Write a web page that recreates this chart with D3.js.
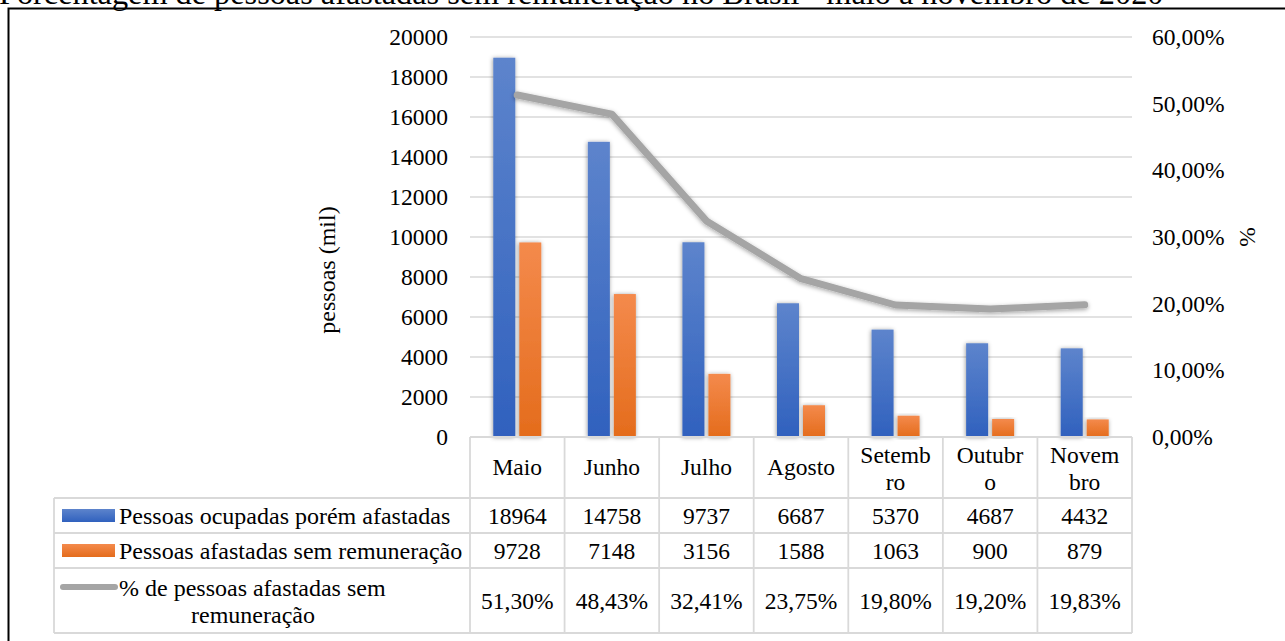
<!DOCTYPE html>
<html>
<head>
<meta charset="utf-8">
<script src="https://cdn.jsdelivr.net/npm/d3@7"></script>
<style>
  html, body { margin: 0; padding: 0; background: #fff; }
  svg { display: block; }
  text { font-family: "Liberation Serif", "Times New Roman", serif; fill: #000; }
</style>
</head>
<body>
<svg id="chart" width="1285" height="641"></svg>
<script>
// ---------------- data ----------------
const title = "Porcentagem de pessoas afastadas sem remuneração no Brasil - maio a novembro de 2020";
const categories = ["Maio", "Junho", "Julho", "Agosto", "Setembro", "Outubro", "Novembro"];
const categoryLines = [["Maio"], ["Junho"], ["Julho"], ["Agosto"], ["Setemb", "ro"], ["Outubr", "o"], ["Novem", "bro"]];
const ocupadasAfastadas = [18964, 14758, 9737, 6687, 5370, 4687, 4432];
const afastadasSemRem = [9728, 7148, 3156, 1588, 1063, 900, 879];
const pctSemRem = [0.5130, 0.4843, 0.3241, 0.2375, 0.1980, 0.1920, 0.1983];
const leftTicks = [0, 2000, 4000, 6000, 8000, 10000, 12000, 14000, 16000, 18000, 20000];
const rightTicks = [0, 0.1, 0.2, 0.3, 0.4, 0.5, 0.6];
const seriesNames = ["Pessoas ocupadas porém afastadas", "Pessoas afastadas sem remuneração", "% de pessoas afastadas sem remuneração"];
const leftTitle = "pessoas (mil)";
const rightTitle = "%";

// ---------------- layout ----------------
const svg = d3.select("#chart");
const W = 1285, H = 641;
const plotL = 470, plotR = 1132, plotT = 37, plotB = 437;
const tableL = 54;
const rowY = [437, 498, 533, 568, 633];
const gridColor = "#d9d9d9";
const fs = 23.5;
const fsT = 24;

const pt = d3.formatLocale({decimal: ",", thousands: ".", grouping: [3], currency: ["R$", ""]});
const fmtPct = pt.format(".2%");

svg.append("rect").attr("width", W).attr("height", H).attr("fill", "#fff");

const defs = svg.append("defs");
function grad(id, top, bottom) {
  const g = defs.append("linearGradient").attr("id", id).attr("x1", 0).attr("y1", 0).attr("x2", 0).attr("y2", 1);
  g.append("stop").attr("offset", "0%").attr("stop-color", top);
  g.append("stop").attr("offset", "100%").attr("stop-color", bottom);
}
grad("gBlue", "#5d84cc", "#3061be");
grad("gOrange", "#f48a4c", "#e46c1c");
const f1 = defs.append("filter").attr("id", "barShadow").attr("x", "-50%").attr("y", "-10%").attr("width", "200%").attr("height", "120%");
f1.append("feDropShadow").attr("dx", -0.5).attr("dy", 0.5).attr("stdDeviation", 2).attr("flood-color", "#000").attr("flood-opacity", 0.4);
const f2 = defs.append("filter").attr("id", "lineShadow").attr("x", "-10%").attr("y", "-30%").attr("width", "120%").attr("height", "160%");
f2.append("feDropShadow").attr("dx", 0).attr("dy", 1.5).attr("stdDeviation", 2).attr("flood-color", "#000").attr("flood-opacity", 0.35);

// title (partly cut off at top, as in reference)
const t = svg.append("text").attr("x", -1).attr("y", 4).attr("font-size", 26).text(title);
const tl = t.node().getComputedTextLength();
t.attr("font-size", 26 * 1165 / tl);

// frame
svg.append("rect").attr("x", 8.5).attr("y", 8.5).attr("width", W + 20).attr("height", H + 20)
  .attr("fill", "none").attr("stroke", "#000").attr("stroke-width", 2);

// scales
const x = d3.scaleBand().domain(categories).range([plotL, plotR]).padding(0);
const bw = x.bandwidth();
const xs = d3.scaleBand().domain(["a", "b"]).range([bw / 2 - 24, bw / 2 + 24]).paddingInner(4 / 26);
const y = d3.scaleLinear().domain([0, 20000]).range([plotB, plotT]);
const yR = d3.scaleLinear().domain([0, 0.6]).range([plotB, plotT]);

// gridlines
svg.append("g").selectAll("line").data(leftTicks.filter(d => d > 0)).join("line")
  .attr("x1", plotL).attr("x2", plotR).attr("y1", d => y(d)).attr("y2", d => y(d))
  .attr("stroke", gridColor).attr("stroke-width", 1.5);

// left axis
const ax = svg.append("g").attr("transform", `translate(${plotL},0)`)
  .call(d3.axisLeft(y).tickValues(leftTicks).tickSize(0).tickPadding(22).tickFormat(d3.format("d")));
ax.select(".domain").remove();
ax.selectAll("text").attr("font-size", fs).attr("font-family", "Liberation Serif").attr("fill", "#000");

// right axis
const axR = svg.append("g").attr("transform", `translate(${plotR},0)`)
  .call(d3.axisRight(yR).tickValues(rightTicks).tickSize(0).tickPadding(20).tickFormat(fmtPct));
axR.select(".domain").remove();
axR.selectAll("text").attr("font-size", fs).attr("font-family", "Liberation Serif").attr("fill", "#000");

// axis titles
svg.append("text").attr("transform", `translate(335,${(plotT + plotB) / 2 + 33}) rotate(-90)`)
  .attr("text-anchor", "middle").attr("font-size", fsT).text(leftTitle);
svg.append("text").attr("transform", `translate(1255,237) rotate(-90)`)
  .attr("text-anchor", "middle").attr("font-size", fs).text(rightTitle);

// bars
const gb = svg.append("g");
gb.selectAll("rect.b1").data(ocupadasAfastadas).join("rect").attr("class", "b1")
  .attr("x", (d, i) => x(categories[i]) + xs("a")).attr("width", xs.bandwidth())
  .attr("y", d => y(d)).attr("height", d => y(0) - y(d))
  .attr("fill", "url(#gBlue)").attr("filter", "url(#barShadow)");
gb.selectAll("rect.b2").data(afastadasSemRem).join("rect").attr("class", "b2")
  .attr("x", (d, i) => x(categories[i]) + xs("b")).attr("width", xs.bandwidth())
  .attr("y", d => y(d)).attr("height", d => y(0) - y(d))
  .attr("fill", "url(#gOrange)").attr("filter", "url(#barShadow)");

// line
const line = d3.line().x((d, i) => x(categories[i]) + bw / 2).y(d => yR(d));
svg.append("path").datum(pctSemRem).attr("d", line)
  .attr("fill", "none").attr("stroke", "#a5a5a5").attr("stroke-width", 7)
  .attr("stroke-linecap", "round").attr("stroke-linejoin", "round").attr("filter", "url(#lineShadow)");

// ---------------- data table ----------------
const tg = svg.append("g").attr("stroke", gridColor).attr("stroke-width", 1.8);
tg.append("line").attr("x1", plotL).attr("x2", plotR).attr("y1", rowY[0]).attr("y2", rowY[0]);
[1, 2, 3, 4].forEach(k => tg.append("line").attr("x1", tableL).attr("x2", plotR).attr("y1", rowY[k]).attr("y2", rowY[k]));
const bounds = categories.map(c => x(c)).concat([plotR]);
bounds.forEach(bx => tg.append("line").attr("x1", bx).attr("x2", bx).attr("y1", rowY[0]).attr("y2", rowY[4]));
tg.append("line").attr("x1", tableL).attr("x2", tableL).attr("y1", rowY[1]).attr("y2", rowY[4]);

// category labels
const cg = svg.append("g");
categoryLines.forEach((lines, i) => {
  const cx = x(categories[i]) + bw / 2;
  const base = lines.length === 1 ? 475 : 463;
  lines.forEach((s, j) => {
    cg.append("text").attr("x", cx).attr("y", base + j * 27).attr("text-anchor", "middle").attr("font-size", fs).text(s);
  });
});

// values
const rowsVals = [ocupadasAfastadas.map(d => String(d)), afastadasSemRem.map(d => String(d)), pctSemRem.map(fmtPct)];
const rowBase = [524, 559, 609];
rowsVals.forEach((vals, r) => {
  vals.forEach((v, i) => {
    svg.append("text").attr("x", x(categories[i]) + bw / 2).attr("y", rowBase[r])
      .attr("text-anchor", "middle").attr("font-size", fs).text(v);
  });
});

// legend keys and labels
svg.append("rect").attr("x", 62).attr("y", 509).attr("width", 53).attr("height", 13).attr("fill", "url(#gBlue)");
svg.append("rect").attr("x", 62).attr("y", 544).attr("width", 53).attr("height", 13).attr("fill", "url(#gOrange)");
svg.append("line").attr("x1", 63).attr("x2", 115).attr("y1", 587).attr("y2", 587)
  .attr("stroke", "#a5a5a5").attr("stroke-width", 6).attr("stroke-linecap", "round");
svg.append("text").attr("x", 119).attr("y", 524).attr("font-size", fsT).text(seriesNames[0]);
svg.append("text").attr("x", 119).attr("y", 559).attr("font-size", fsT).text(seriesNames[1]);
svg.append("text").attr("x", 119).attr("y", 596).attr("font-size", fsT).text("% de pessoas afastadas sem");
svg.append("text").attr("x", 253).attr("y", 623).attr("text-anchor", "middle").attr("font-size", fsT).text("remuneração");
</script>
</body>
</html>
